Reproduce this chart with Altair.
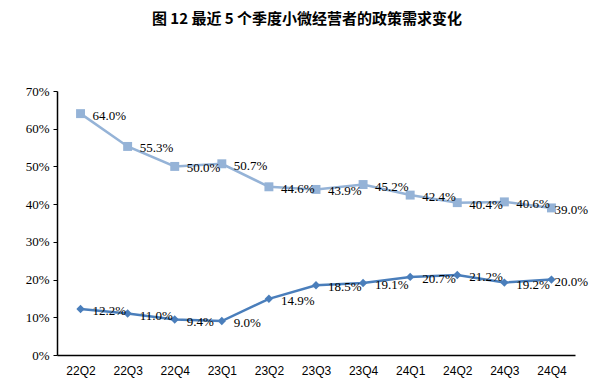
import altair as alt
import pandas as pd

quarters = ["22Q2", "22Q3", "22Q4", "23Q1", "23Q2", "23Q3", "23Q4", "24Q1", "24Q2", "24Q3", "24Q4"]
series_a = [64.0, 55.3, 50.0, 50.7, 44.6, 43.9, 45.2, 42.4, 40.4, 40.6, 39.0]
series_b = [12.2, 11.0, 9.4, 9.0, 14.9, 18.5, 19.1, 20.7, 21.2, 19.2, 20.0]

rows = []
for q, a, b in zip(quarters, series_a, series_b):
    rows.append({"q": q, "s": "A", "v": a / 100})
    rows.append({"q": q, "s": "B", "v": b / 100})
df = pd.DataFrame(rows)

xenc = alt.X("q:N", sort=quarters, title=None,
             scale=alt.Scale(paddingInner=1, paddingOuter=0.5),
             axis=alt.Axis(labelAngle=0, ticks=False, domainColor="black", domainWidth=1.5,
                           labelFont="Liberation Sans", labelFontSize=12, labelColor="black",
                           labelPadding=10, grid=False))
yenc = alt.Y("v:Q", title=None,
             scale=alt.Scale(domain=[0, 0.7], nice=False),
             axis=alt.Axis(format=".0%", values=[0, .1, .2, .3, .4, .5, .6, .7], grid=False,
                           domainColor="black", domainWidth=1.5, tickColor="black", tickSize=4,
                           labelFont="Liberation Serif", labelFontSize=13, labelColor="black",
                           labelPadding=4))
color = alt.Color("s:N", scale=alt.Scale(domain=["A", "B"], range=["#95B3D7", "#4A7EBB"]), legend=None)

base = alt.Chart(df).encode(x=xenc, y=yenc)
line = base.mark_line(strokeWidth=2.5).encode(color=color)
pts_a = base.transform_filter("datum.s == 'A'").mark_point(
    shape="square", filled=True, size=80, opacity=1).encode(color=color)
pts_b = base.transform_filter("datum.s == 'B'").mark_point(
    shape="diamond", filled=True, size=70, opacity=1).encode(color=color)
txt = dict(align="left", baseline="middle", dy=2, font="Liberation Serif", fontSize=13)
labels = base.transform_filter("datum.q != '24Q4'").mark_text(dx=12, **txt).encode(
    text=alt.Text("v:Q", format=".1%"), color=alt.value("black"))
labels_last = base.transform_filter("datum.q == '24Q4'").mark_text(dx=3, **txt).encode(
    text=alt.Text("v:Q", format=".1%"), color=alt.value("black"))

chart = alt.layer(line, pts_a, pts_b, labels, labels_last).properties(
    width=518, height=264,
    title=alt.TitleParams("图  12  最近 5 个季度小微经营者的政策需求变化", font="Noto Sans CJK SC",
                          fontSize=15, fontWeight="bold", color="black", offset=58, dx=-9),
    autosize=alt.AutoSizeParams(type="none"),
    padding={"left": 49, "top": 83, "right": 16, "bottom": 25},
).configure_view(stroke=None)

chart.save("out.html", embed_options={"renderer": "svg", "actions": False})
